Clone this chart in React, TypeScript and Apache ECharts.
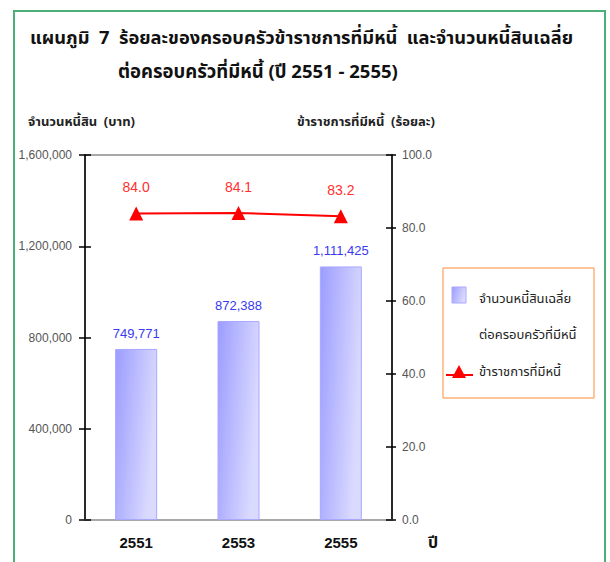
import React, { useEffect, useRef } from "react";
import * as echarts from "echarts";

const categories = ["2551", "2553", "2555"];
const debtValues = [749771, 872388, 1111425];
const percentValues = [84.0, 84.1, 83.2];
const leftTicks = { min: 0, max: 1600000, interval: 400000 };
const rightTicks = { min: 0, max: 100, interval: 20 };

const titleLine1 = "แผนภูมิ  7  ร้อยละของครอบครัวข้าราชการที่มีหนี้  และจำนวนหนี้สินเฉลี่ย";
const titleLine2 = "ต่อครอบครัวที่มีหนี้ (ปี 2551 - 2555)";
const leftAxisName = "จำนวนหนี้สิน  (บาท)";
const rightAxisName = "ข้าราชการที่มีหนี้  (ร้อยละ)";
const xAxisName = "ปี";
const barSeriesName = "จำนวนหนี้สินเฉลี่ยต่อครอบครัวที่มีหนี้";
const barLegend1 = "จำนวนหนี้สินเฉลี่ย";
const barLegend2 = "ต่อครอบครัวที่มีหนี้";
const lineSeriesName = "ข้าราชการที่มีหนี้";

const THAI = "Tahoma, 'Noto Sans Thai', 'Noto Sans', sans-serif";
const NUM = "'Liberation Sans', Arial, sans-serif";

const barGradient = () =>
  new echarts.graphic.LinearGradient(0, 0, 1, 0.35, [
    { offset: 0, color: "#9c9cff" },
    { offset: 1, color: "#dadaff" },
  ]);

export default function App() {
  const ref = useRef<HTMLDivElement>(null);
  useEffect(() => {
    if (!ref.current) return;
    const chart = echarts.init(ref.current, null, { renderer: "svg" });
    const fmt = (v: number) => v.toLocaleString("en-US");
    chart.setOption({
      animation: false,
      backgroundColor: "#ffffff",
      grid: {
        left: 85,
        right: 218,
        top: 155,
        bottom: 42,
        show: true,
        borderColor: "#a8a8a8",
        borderWidth: 2,
        backgroundColor: "transparent",
      },
      xAxis: {
        type: "category",
        data: categories,
        axisLine: { show: true, lineStyle: { color: "#a8a8a8", width: 2 } },
        axisTick: { show: false },
        axisLabel: {
          color: "#111",
          fontWeight: "bold",
          fontSize: 15,
          fontFamily: NUM,
          margin: 15,
        },
      },
      yAxis: [
        {
          type: "value",
          position: "left",
          min: leftTicks.min,
          max: leftTicks.max,
          interval: leftTicks.interval,
          axisLine: { show: true, lineStyle: { color: "#000", width: 1.5 } },
          axisTick: { show: true, inside: false, length: 6, lineStyle: { color: "#000", width: 1.5 } },
          axisLabel: { color: "#555", fontSize: 12, fontFamily: NUM, margin: 13, formatter: (v: number) => fmt(v) },
          splitLine: { show: false },
        },
        {
          type: "value",
          position: "right",
          min: rightTicks.min,
          max: rightTicks.max,
          interval: rightTicks.interval,
          axisLine: { show: true, lineStyle: { color: "#000", width: 1.5 } },
          axisTick: { show: true, inside: false, length: 4, lineStyle: { color: "#000", width: 1.5 } },
          axisLabel: { color: "#555", fontSize: 12, fontFamily: NUM, margin: 10, formatter: (v: number) => v.toFixed(1) },
          splitLine: { show: false },
        },
        {
          type: "value",
          position: "left",
          min: leftTicks.min,
          max: leftTicks.max,
          interval: leftTicks.interval,
          axisLine: { show: false },
          axisTick: { show: true, inside: true, length: 6, lineStyle: { color: "#000", width: 1.5 } },
          axisLabel: { show: false },
          splitLine: { show: false },
        },
        {
          type: "value",
          position: "right",
          min: rightTicks.min,
          max: rightTicks.max,
          interval: rightTicks.interval,
          axisLine: { show: false },
          axisTick: { show: true, inside: true, length: 6, lineStyle: { color: "#000", width: 1.5 } },
          axisLabel: { show: false },
          splitLine: { show: false },
        },
      ],
      series: [
        {
          name: barSeriesName,
          type: "bar",
          yAxisIndex: 0,
          data: debtValues,
          barWidth: 42,
          itemStyle: { color: barGradient(), borderColor: "#a8a8ff", borderWidth: 1 },
          label: {
            show: true,
            position: "top",
            distance: 9,
            color: "#3a3af0",
            fontSize: 13,
            fontFamily: NUM,
            formatter: (p: any) => fmt(p.value),
          },
        },
        {
          name: lineSeriesName,
          type: "line",
          yAxisIndex: 1,
          data: percentValues,
          symbol: "triangle",
          symbolSize: 14,
          lineStyle: { color: "#ff0000", width: 2 },
          itemStyle: { color: "#ff0000" },
          label: {
            show: true,
            position: "top",
            distance: 12,
            color: "#ff3030",
            fontSize: 14,
            fontFamily: NUM,
            formatter: (p: any) => p.value.toFixed(1),
          },
        },
      ],
      graphic: [
        {
          type: "rect",
          shape: { x: 14, y: 11, width: 591, height: 580 },
          style: { fill: "none", stroke: "#4caf78", lineWidth: 2 },
          silent: true,
        },
        {
          type: "text",
          x: 30,
          y: 38,
          style: { text: titleLine1, fontFamily: THAI, fontSize: 18.3, fontWeight: "bold", fill: "#111", verticalAlign: "middle" },
        },
        {
          type: "text",
          x: 118,
          y: 72,
          style: { text: titleLine2, fontFamily: THAI, fontSize: 18.5, fontWeight: "bold", fill: "#111", verticalAlign: "middle" },
        },
        {
          type: "text",
          x: 28,
          y: 122,
          style: { text: leftAxisName, fontFamily: THAI, fontSize: 13, fontWeight: "bold", fill: "#222", verticalAlign: "middle" },
        },
        {
          type: "text",
          x: 297,
          y: 122,
          style: { text: rightAxisName, fontFamily: THAI, fontSize: 13, fontWeight: "bold", fill: "#222", verticalAlign: "middle" },
        },
        {
          type: "text",
          x: 428,
          y: 543,
          style: { text: xAxisName, fontFamily: THAI, fontSize: 16, fontWeight: "bold", fill: "#111", verticalAlign: "middle" },
        },
        {
          type: "rect",
          shape: { x: 443, y: 268, width: 151, height: 130 },
          style: { fill: "#fff", stroke: "#ff8c3c", lineWidth: 1 },
        },
        {
          type: "rect",
          shape: { x: 452, y: 287, width: 14, height: 16 },
          style: { fill: barGradient(), stroke: "#a8a8ff", lineWidth: 1 },
        },
        {
          type: "text",
          x: 479,
          y: 299,
          style: { text: barLegend1, fontFamily: THAI, fontSize: 13, fill: "#222", verticalAlign: "middle" },
        },
        {
          type: "text",
          x: 479,
          y: 335,
          style: { text: barLegend2, fontFamily: THAI, fontSize: 13, fill: "#222", verticalAlign: "middle" },
        },
        {
          type: "line",
          shape: { x1: 446, y1: 375, x2: 473, y2: 375 },
          style: { stroke: "#ff0000", lineWidth: 2 },
        },
        {
          type: "polygon",
          shape: { points: [[459, 365], [466, 378], [452, 378]] },
          style: { fill: "#ff0000" },
        },
        {
          type: "text",
          x: 479,
          y: 372,
          style: { text: lineSeriesName, fontFamily: THAI, fontSize: 13, fill: "#222", verticalAlign: "middle" },
        },
      ],
    });
    return () => chart.dispose();
  }, []);
  return <div ref={ref} style={{ position: "fixed", left: 0, top: 0, width: 610, height: 562 }} />;
}
